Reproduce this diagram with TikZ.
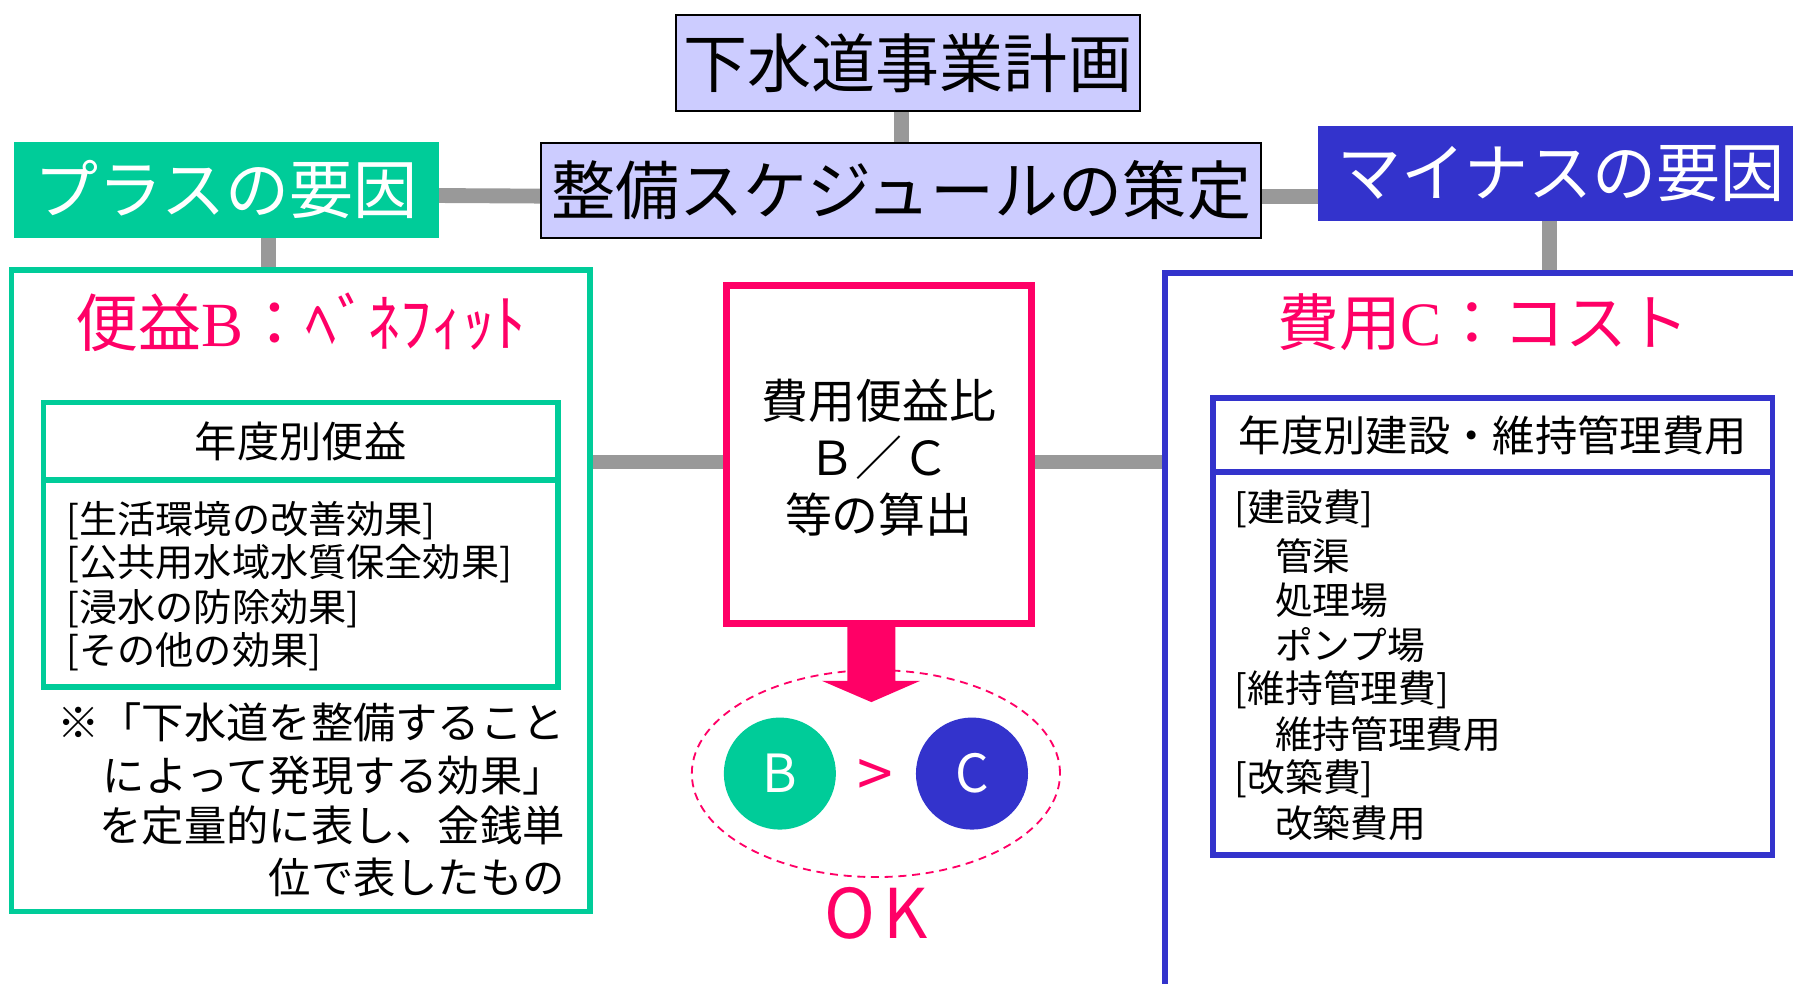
\documentclass[tikz,border=0pt]{standalone}
\usepackage{fontspec}
\setmainfont{Noto Sans CJK JP}
\newfontfamily\lserif{Liberation Serif}
\usetikzlibrary{backgrounds}
\pgfdeclarelayer{bottom}
\pgfsetlayers{bottom,background,main}
\definecolor{lav}{HTML}{CCCCFF}
\definecolor{grn}{HTML}{00CC99}
\definecolor{blu}{HTML}{3333CC}
\definecolor{mag}{HTML}{FF0066}
\definecolor{gry}{HTML}{999999}
\newcommand{\fs}[1]{\fontsize{#1}{1.2\dimexpr#1\relax}\selectfont}
\begin{document}
\begin{tikzpicture}[x=0.5pt,y=-0.5pt,
  every node/.style={inner sep=0pt,outer sep=0pt},
  titlebox/.style={draw=black,line width=1pt,fill=lav,font=\fs{28pt}},
  factorbox/.style={text=white,font=\fs{28pt}},
  conn/.style={draw=gry,line width=6.5pt},
  greenframe/.style={draw=grn,line width=2.5pt,fill=white},
  blueframe/.style={draw=blu,line width=2.5pt,fill=white},
  headtext/.style={font=\fs{18.5pt}},
  itemL/.style={anchor=west,font=\fs{16.7pt}},
  itemR/.style={anchor=west,font=\fs{16.5pt}},
  notetext/.style={anchor=east,font=\fs{18.5pt}},
  bigtitle/.style={text=mag}
]
\clip (0,0) rectangle (1568,860.5);
\begin{pgfonlayer}{bottom}
\fill[white] (0,0) rectangle (1568,860.5);
\end{pgfonlayer}

% top boxes
\node[titlebox,minimum width=203pt,minimum height=42pt] (top) at (794,55) {下水道事業計画};
\node[titlebox,minimum width=315pt,minimum height=41.5pt] (sched) at (788,166.5) {整備スケジュールの策定};
\node[fill=grn,minimum width=186pt,minimum height=42pt] (plus) at (198,166) {};
\node[factorbox] (plustext) at (198,166) {プラスの要因};
\node[fill=blu,minimum width=212pt,minimum height=41.5pt] (minus) at (1365,151.5) {};
\node[factorbox] (minustext) at (1365,151.5) {マイナスの要因};

% left frame
\node[greenframe,minimum width=253pt,minimum height=280.5pt] (lb) at (263,516.5) {};
\node[bigtitle,font=\fs{27.5pt}] (ltitle) at (263,282) {便益{\lserif B}：ﾍﾞﾈﾌｨｯﾄ};
\node[greenframe,minimum width=225pt,minimum height=34pt,headtext] (lh) at (263,386) {年度別便益};
\node[greenframe,minimum width=225pt,minimum height=90.5pt] (lbody) at (263,510.5) {};
\node[itemL] (l1) at (58,455) {[生活環境の改善効果]};
\node[itemL] (l2) at (58,493) {[公共用水域水質保全効果]};
\node[itemL] (l3) at (58,532) {[浸水の防除効果]};
\node[itemL] (l4) at (58,570) {[その他の効果]};
\node[notetext] (n1) at (494,632) {※「下水道を整備すること};
\node[notetext] (n2) at (494,678) {によって発現する効果」};
\node[notetext] (n3) at (494,722) {を定量的に表し、金銭単};
\node[notetext] (n4) at (494,767) {位で表したもの};

% right frame
\node[blueframe,minimum width=290.5pt,minimum height=330.75pt] (rb) at (1309.5,569.25) {};
\node[bigtitle,font=\fs{27pt}] (rtitle) at (1297,282) {費用{\lserif C}：コスト};
\node[blueframe,minimum width=244.5pt,minimum height=32.5pt,headtext] (rh) at (1305.5,380.5) {年度別建設・維持管理費用};
\node[blueframe,minimum width=244.5pt,minimum height=167.5pt] (rbody) at (1305.5,580.5) {};
\node[itemR] (r1) at (1080,445) {[建設費]};
\node[itemR] (r2) at (1115,486) {管渠};
\node[itemR] (r3) at (1115,525) {処理場};
\node[itemR] (r4) at (1115,564) {ポンプ場};
\node[itemR] (r5) at (1080,603) {[維持管理費]};
\node[itemR] (r6) at (1115,642) {維持管理費用};
\node[itemR] (r7) at (1080,681) {[改築費]};
\node[itemR] (r8) at (1115,720) {改築費用};

% centre
\node[draw=mag,line width=3pt,fill=white,minimum width=133.5pt,minimum height=147.5pt] (cb) at (768.5,397.5) {};
\node[align=center,font=\fontsize{20.5pt}{25pt}\selectfont] (ctext) at (768.5,400) {費用便益比\\Ｂ／Ｃ\\等の算出};
\fill[mag] (741,546) -- (783,546) -- (783,595.5) -- (804.5,595.5) -- (762,614) -- (719,595.5) -- (741,595.5) -- cycle;
\draw[mag,line width=0.8pt,dash pattern=on 3.5pt off 2.5pt] (766,676.5) ellipse [x radius=80.5pt,y radius=45.25pt];
\node[circle,fill=grn,minimum size=49pt,text=white,font=\fs{23pt}] (cB) at (682,676.5) {B};
\node[circle,fill=blu,minimum size=49pt,text=white,font=\fs{23pt}] (cC) at (850,676.5) {C};
\node[text=mag,font=\fs{28pt}] (gt) at (765.5,681) {>};
\node[text=mag,font=\fs{30pt}] (ok) at (766.5,799) {O\kern3.5ptK};

% connectors
\begin{pgfonlayer}{background}
\draw[conn] (sched.north) -- (sched.north |- top.south);
\draw[conn] ([yshift=-2.5pt]plus.east) -- ([yshift=-2.5pt]sched.west);
\draw[conn] ([yshift=-2.5pt]sched.east) -- ([yshift=-2.5pt]sched.east -| minus.west);
\draw[conn] ([xshift=18.5pt]plus.south) -- ([xshift=18.5pt]plus.south |- lb.north);
\draw[conn] ([xshift=-5pt]minus.south) -- ([xshift=-5pt]minus.south |- rb.north);
\draw[conn] ([yshift=-3.25pt]cb.west) -- ([yshift=-3.25pt]cb.west -| lb.east);
\draw[conn] ([yshift=-3.25pt]cb.east) -- ([yshift=-3.25pt]cb.east -| rb.west);
\end{pgfonlayer}
\end{tikzpicture}
\end{document}
